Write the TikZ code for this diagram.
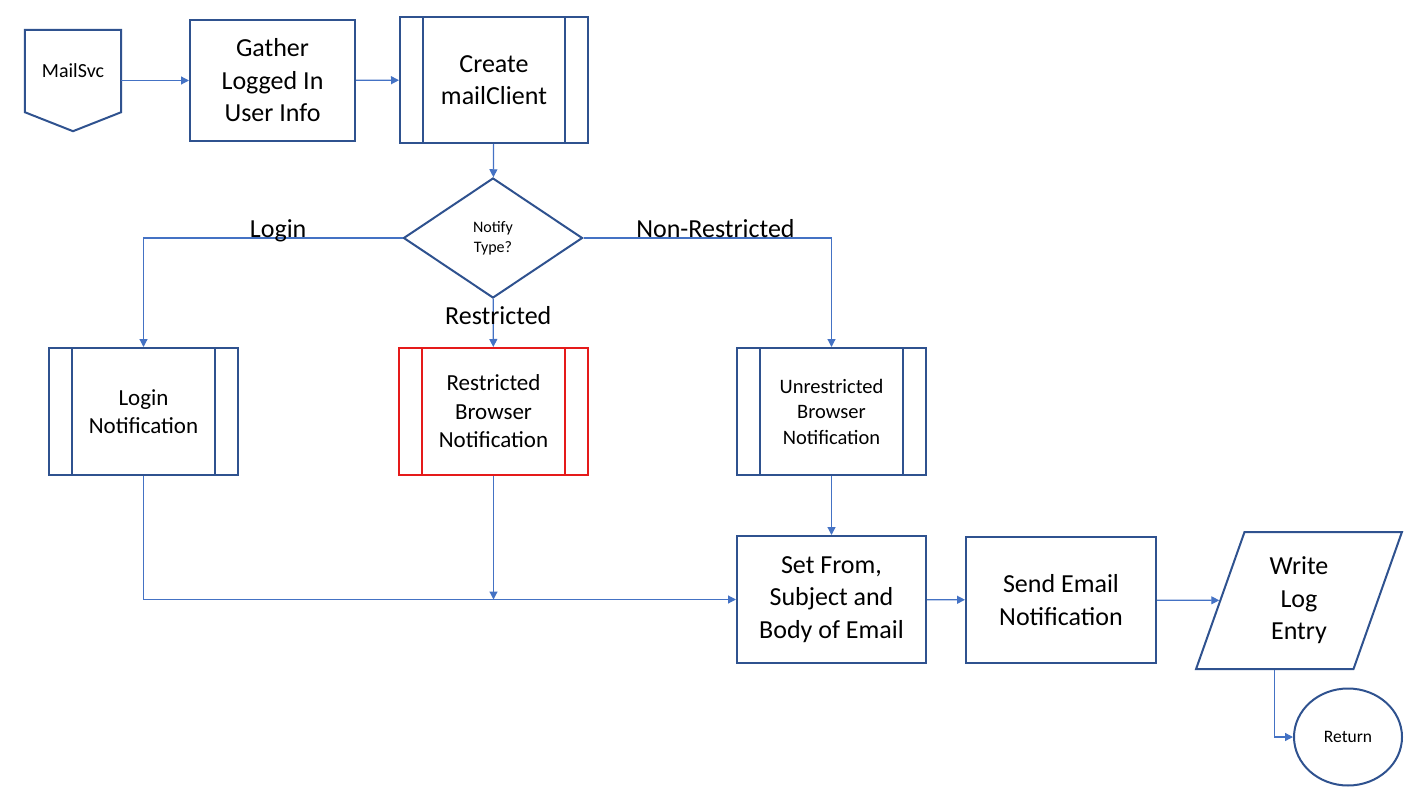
\documentclass[tikz,border=0pt]{standalone}
\usepackage{fontspec}
\setmainfont{Carlito}
\usepackage{tikz}
\usetikzlibrary{shapes,arrows,arrows.meta,fit,positioning}

\definecolor{boxblue}{HTML}{2F528F}
\definecolor{lineblue}{HTML}{4472C4}
\definecolor{boxred}{HTML}{E51A1A}

\begin{document}
\begin{tikzpicture}[x=1pt,y=-1pt,
  txtbig/.style={font=\fontsize{26}{32.5}\selectfont},
  txtmid/.style={font=\fontsize{23}{28.5}\selectfont},
  box/.style={draw=boxblue,line width=2pt,align=center,inner sep=0pt,
    minimum width=189pt,minimum height=127pt},
  subproc/.style={box,draw=#1,path picture={
    \draw[#1,line width=2pt]
      ([xshift=23pt]path picture bounding box.north west) -- ([xshift=23pt]path picture bounding box.south west)
      ([xshift=-23pt]path picture bounding box.north east) -- ([xshift=-23pt]path picture bounding box.south east);}},
  subproc/.default=boxblue,
  flow/.style={draw=lineblue,line width=1.2pt,-{Triangle[length=8pt,width=8pt]}},
  lbl/.style={txtbig,anchor=base}
]
\useasboundingbox (0,0) rectangle (1416,789);

% top row
\node[align=center,inner sep=0pt,minimum width=96pt,minimum height=82pt,
  font=\fontsize{20}{24}\selectfont] (svc) at (73,71) {MailSvc};
\draw[boxblue,line width=2pt] (svc.north west) -- (svc.north east) -- (svc.south east)
  -- ([yshift=-19pt]svc.south) -- (svc.south west) -- cycle;
\node[box,txtbig,minimum width=165pt,minimum height=121pt] (gather) at (272.5,80.5) {Gather\\Logged In\\User Info};
\node[subproc,txtbig,minimum width=188pt,minimum height=126pt] (client) at (494,80) {Create\\mailClient};

% decision
\node[diamond,draw=boxblue,line width=2pt,inner sep=0pt,align=center,
  minimum width=179pt,minimum height=120pt,font=\fontsize{16}{20}\selectfont] (notify) at (493,238) {Notify\\Type?};

% notifications
\node[subproc,txtmid] (login) at (143.5,411.5) {Login\\Notification};
\node[subproc=boxred,txtmid] (restr) at (493.5,411.5) {Restricted\\Browser\\Notification};
\node[subproc,font=\fontsize{20.5}{25.5}\selectfont] (unres) at (831.5,411.5) {Unrestricted\\Browser\\Notification};

% bottom row
\node[box,txtbig] (body) at (831.5,599.5) {Set From,\\Subject and\\Body of Email};
\node[box,txtbig,minimum width=190pt,minimum height=126pt] (send) at (1061,600) {Send Email\\Notification};
\node[trapezium,trapezium stretches=true,trapezium left angle=73.3,trapezium right angle=106.7,
  draw=boxblue,line width=2pt,inner sep=0pt,align=center,txtbig,
  minimum width=206pt,minimum height=137pt] (wlog) at (1299,600.5) {Write\\Log\\Entry};
\node[ellipse,draw=boxblue,line width=2pt,inner sep=0pt,minimum width=108pt,minimum height=97pt,
  font=\fontsize{17.5}{21}\selectfont] (ret) at (1348,737) {Return};

% connectors
\draw[flow] (svc.east |- gather.west) -- (gather.west);
\draw[flow] (gather) -- (client);
\draw[flow] (client) -- (notify);
\draw[flow] (notify.west) -| node[lbl,pos=0.24,yshift=1pt] {Login} (login.north);
\draw[flow] (notify.east) -| node[lbl,pos=0.266,yshift=1pt] {Non-Restricted} (unres.north);
\draw[flow] (notify) -- node[lbl,pos=0.5,xshift=5pt,yshift=-2pt] {Restricted} (restr);
\draw[flow] (login.south) |- (body.west);
\draw[flow] (restr.south) -- (restr.south |- body.west);
\draw[flow] (unres) -- (body);
\draw[flow] (body) -- (send);
\draw[flow] (send) -- (wlog);
\draw[flow] (wlog.bottom side) |- (ret.west);
\end{tikzpicture}
\end{document}
